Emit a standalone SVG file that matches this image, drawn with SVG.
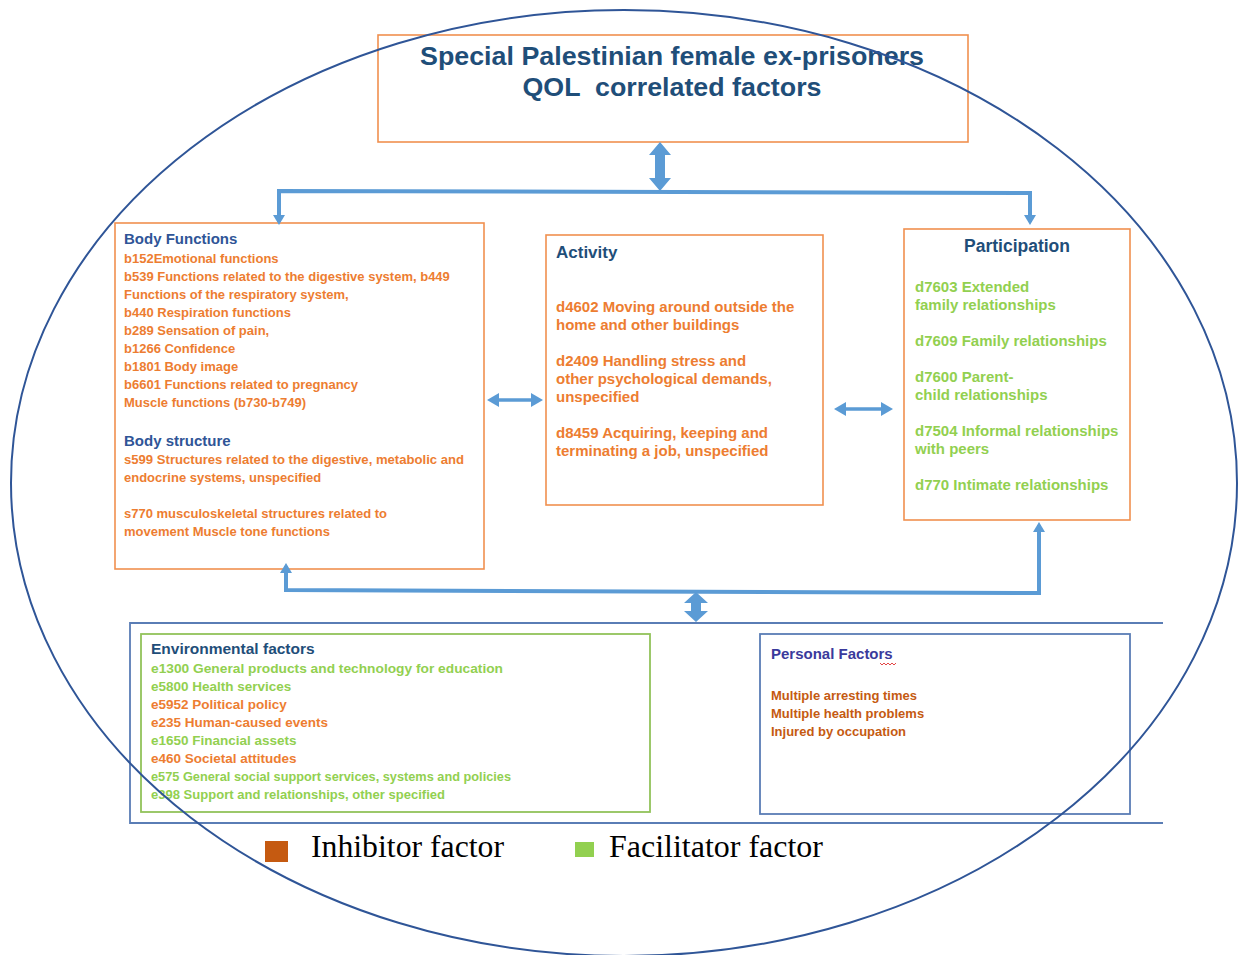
<svg xmlns="http://www.w3.org/2000/svg" width="1243" height="955" viewBox="0 0 1243 955">
<style>
  .box{fill:none;stroke:#F0904F;stroke-width:1.6}
  .bbox{fill:none;stroke:#5A7DB5;stroke-width:1.8}
  .gbox{fill:none;stroke:#92C35A;stroke-width:1.8}
  .conn{fill:none;stroke:#5B9BD5;stroke-width:4}
  .thin{fill:none;stroke:#5B9BD5;stroke-width:3.5}
  .blk{fill:#5B9BD5}
  .t{font-family:"Liberation Sans",Arial,sans-serif;font-weight:bold}
  .org{fill:#ED7D31}
  .dorg{fill:#C55A11}
  .grn{fill:#92D050}
  .navy{fill:#1F4E79}
  .blu{fill:#2F5597}
  .ind{fill:#3A3A9C}
  .s13{font-size:13px}
  .s135{font-size:13.5px}
  .s15{font-size:15px}
  .leg{font-family:"Liberation Serif","Times New Roman",serif;font-size:31px;fill:#000}
</style>
<defs>
  <marker id="ah" viewBox="0 0 10 12" markerWidth="10" markerHeight="12" refX="7" refY="6" orient="auto-start-reverse" markerUnits="userSpaceOnUse">
    <path d="M0,0 L10,6 L0,12 z" fill="#5B9BD5"/>
  </marker>
  <marker id="ah2" viewBox="0 0 12 14" markerWidth="12" markerHeight="14" refX="8" refY="7" orient="auto-start-reverse" markerUnits="userSpaceOnUse">
    <path d="M0,0 L12,7 L0,14 z" fill="#5B9BD5"/>
  </marker>
</defs>

<g id="title">
  <rect class="box" x="378" y="35" width="590" height="107"/>
  <text class="t navy" x="672" y="65" font-size="25" text-anchor="middle" textLength="504" lengthAdjust="spacingAndGlyphs">Special Palestinian female ex-prisoners</text>
  <text class="t navy" x="672" y="96" font-size="25" text-anchor="middle" xml:space="preserve" textLength="299" lengthAdjust="spacingAndGlyphs">QOL  correlated factors</text>
</g>

<g id="body-functions">
  <rect class="box" x="115" y="223" width="369" height="346"/>
  <text class="t blu s15" x="124" y="244">Body Functions</text>
  <text class="t org s13" x="124" y="263">b152Emotional functions</text>
  <text class="t org s13" x="124" y="281">b539 Functions related to the digestive system, b449</text>
  <text class="t org s13" x="124" y="299">Functions of the respiratory system,</text>
  <text class="t org s13" x="124" y="317">b440 Respiration functions</text>
  <text class="t org s13" x="124" y="335">b289 Sensation of pain,</text>
  <text class="t org s13" x="124" y="353">b1266 Confidence</text>
  <text class="t org s13" x="124" y="371">b1801 Body image</text>
  <text class="t org s13" x="124" y="389">b6601 Functions related to pregnancy</text>
  <text class="t org s13" x="124" y="407">Muscle functions (b730-b749)</text>
  <text class="t blu s15" x="124" y="446">Body structure</text>
  <text class="t org s13" x="124" y="464" textLength="340" lengthAdjust="spacingAndGlyphs">s599 Structures related to the digestive, metabolic and</text>
  <text class="t org s13" x="124" y="482">endocrine systems, unspecified</text>
  <text class="t org s13" x="124" y="518">s770 musculoskeletal structures related to</text>
  <text class="t org s13" x="124" y="536">movement Muscle tone functions</text>
</g>

<g id="activity">
  <rect class="box" x="546" y="235" width="277" height="270"/>
  <text class="t navy" x="556" y="258" font-size="17">Activity</text>
  <text class="t org s15" x="556" y="312">d4602 Moving around outside the</text>
  <text class="t org s15" x="556" y="330">home and other buildings</text>
  <text class="t org s15" x="556" y="366">d2409 Handling stress and</text>
  <text class="t org s15" x="556" y="384">other psychological demands,</text>
  <text class="t org s15" x="556" y="402">unspecified</text>
  <text class="t org s15" x="556" y="438">d8459 Acquiring, keeping and</text>
  <text class="t org s15" x="556" y="456">terminating a job, unspecified</text>
</g>

<g id="participation">
  <rect class="box" x="904" y="229" width="226" height="291"/>
  <text class="t navy" x="1017" y="252" font-size="17.5" text-anchor="middle">Participation</text>
  <text class="t grn s15" x="915" y="292">d7603 Extended</text>
  <text class="t grn s15" x="915" y="310">family relationships</text>
  <text class="t grn s15" x="915" y="346">d7609 Family relationships</text>
  <text class="t grn s15" x="915" y="382">d7600 Parent-</text>
  <text class="t grn s15" x="915" y="400">child relationships</text>
  <text class="t grn s15" x="915" y="436">d7504 Informal relationships</text>
  <text class="t grn s15" x="915" y="454">with peers</text>
  <text class="t grn s15" x="915" y="490">d770 Intimate relationships</text>
</g>

<g id="contextual-frame">
  <path class="bbox" d="M1163,623 H130 V823 H1163"/>
</g>

<g id="environmental">
  <rect class="gbox" x="141" y="634" width="509" height="178"/>
  <text class="t navy" x="151" y="654" font-size="15.5">Environmental factors</text>
  <text class="t grn s135" x="151" y="673" textLength="352" lengthAdjust="spacingAndGlyphs">e1300 General products and technology for education</text>
  <text class="t grn s135" x="151" y="691">e5800 Health services</text>
  <text class="t org s135" x="151" y="709">e5952 Political policy</text>
  <text class="t org s135" x="151" y="727">e235 Human-caused events</text>
  <text class="t grn s135" x="151" y="745">e1650 Financial assets</text>
  <text class="t org s135" x="151" y="763">e460 Societal attitudes</text>
  <text class="t grn s135" x="151" y="781" textLength="360" lengthAdjust="spacingAndGlyphs">e575 General social support services, systems and policies</text>
  <text class="t grn s135" x="151" y="799" textLength="294" lengthAdjust="spacingAndGlyphs">e398 Support and relationships, other specified</text>
</g>

<g id="personal">
  <rect class="bbox" x="760" y="634" width="370" height="180"/>
  <text class="t ind s15" x="771" y="659">Personal Factors</text>
  <path d="M880,663 l2,2 l2,-2 l2,2 l2,-2 l2,2 l2,-2 l2,2 l2,-2" fill="none" stroke="#E03030" stroke-width="0.9"/>
  <text class="t dorg s13" x="771" y="700">Multiple arresting times</text>
  <text class="t dorg s13" x="771" y="718">Multiple health problems</text>
  <text class="t dorg s13" x="771" y="736">Injured by occupation</text>
</g>

<g id="connectors">
  <polygon class="blk" points="660,142 671,155 665,155 665,178 671,178 660,191 649,178 655,178 655,155 649,155"/>
  <path class="conn" d="M279,222 L279,191 L1030,193 L1030,222" marker-start="url(#ah)" marker-end="url(#ah)"/>
  <path class="thin" d="M491,400 L539,400" marker-start="url(#ah2)" marker-end="url(#ah2)"/>
  <path class="thin" d="M838,409 L889,409" marker-start="url(#ah2)" marker-end="url(#ah2)"/>
  <path class="conn" d="M286,566 L286,590 L1039,593 L1039,525" marker-start="url(#ah)" marker-end="url(#ah)"/>
  <polygon class="blk" points="696,592 708,603 701,603 701,611 708,611 696,622 684,611 691,611 691,603 684,603"/>
</g>

<g id="legend">
  <rect x="265" y="841" width="23" height="21" fill="#C55A11"/>
  <text class="leg" x="311" y="857" textLength="193" lengthAdjust="spacingAndGlyphs">Inhibitor factor</text>
  <rect x="575" y="842" width="19" height="15" fill="#92D050"/>
  <text class="leg" x="609" y="857" textLength="214" lengthAdjust="spacingAndGlyphs">Facilitator factor</text>
</g>

<g id="ellipse">
  <ellipse cx="624" cy="483" rx="613" ry="473" fill="none" stroke="#2F5597" stroke-width="2"/>
</g>
</svg>
